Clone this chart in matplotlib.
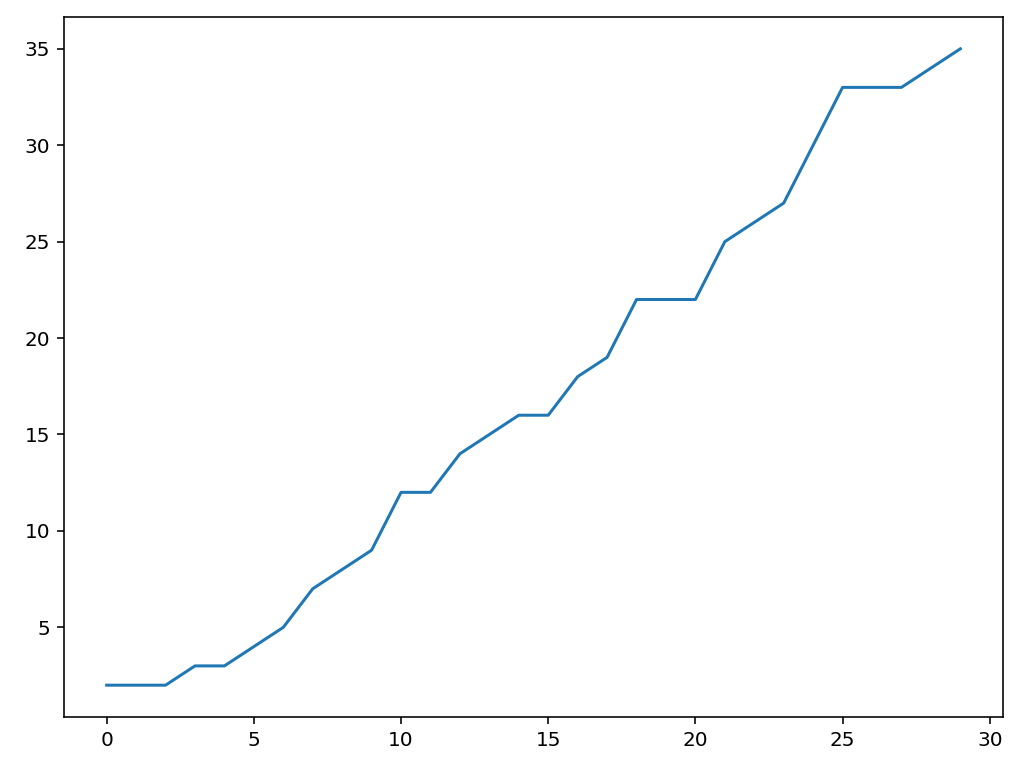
import matplotlib
matplotlib.use("Agg")
import matplotlib.pyplot as plt

x = list(range(30))
y = [2, 2, 2, 3, 3, 4, 5, 7, 8, 9, 12, 12, 14, 15, 16, 16, 18, 19, 22, 22,
     22, 25, 26, 27, 30, 33, 33, 33, 34, 35]

fig = plt.figure(figsize=(1024/144, 769/144), dpi=144)
ax = fig.add_axes([64/1024, 1 - 717/769, (1003 - 64)/1024, (717 - 17)/769])
ax.plot(x, y)
fig.savefig("out.png", dpi=144)
